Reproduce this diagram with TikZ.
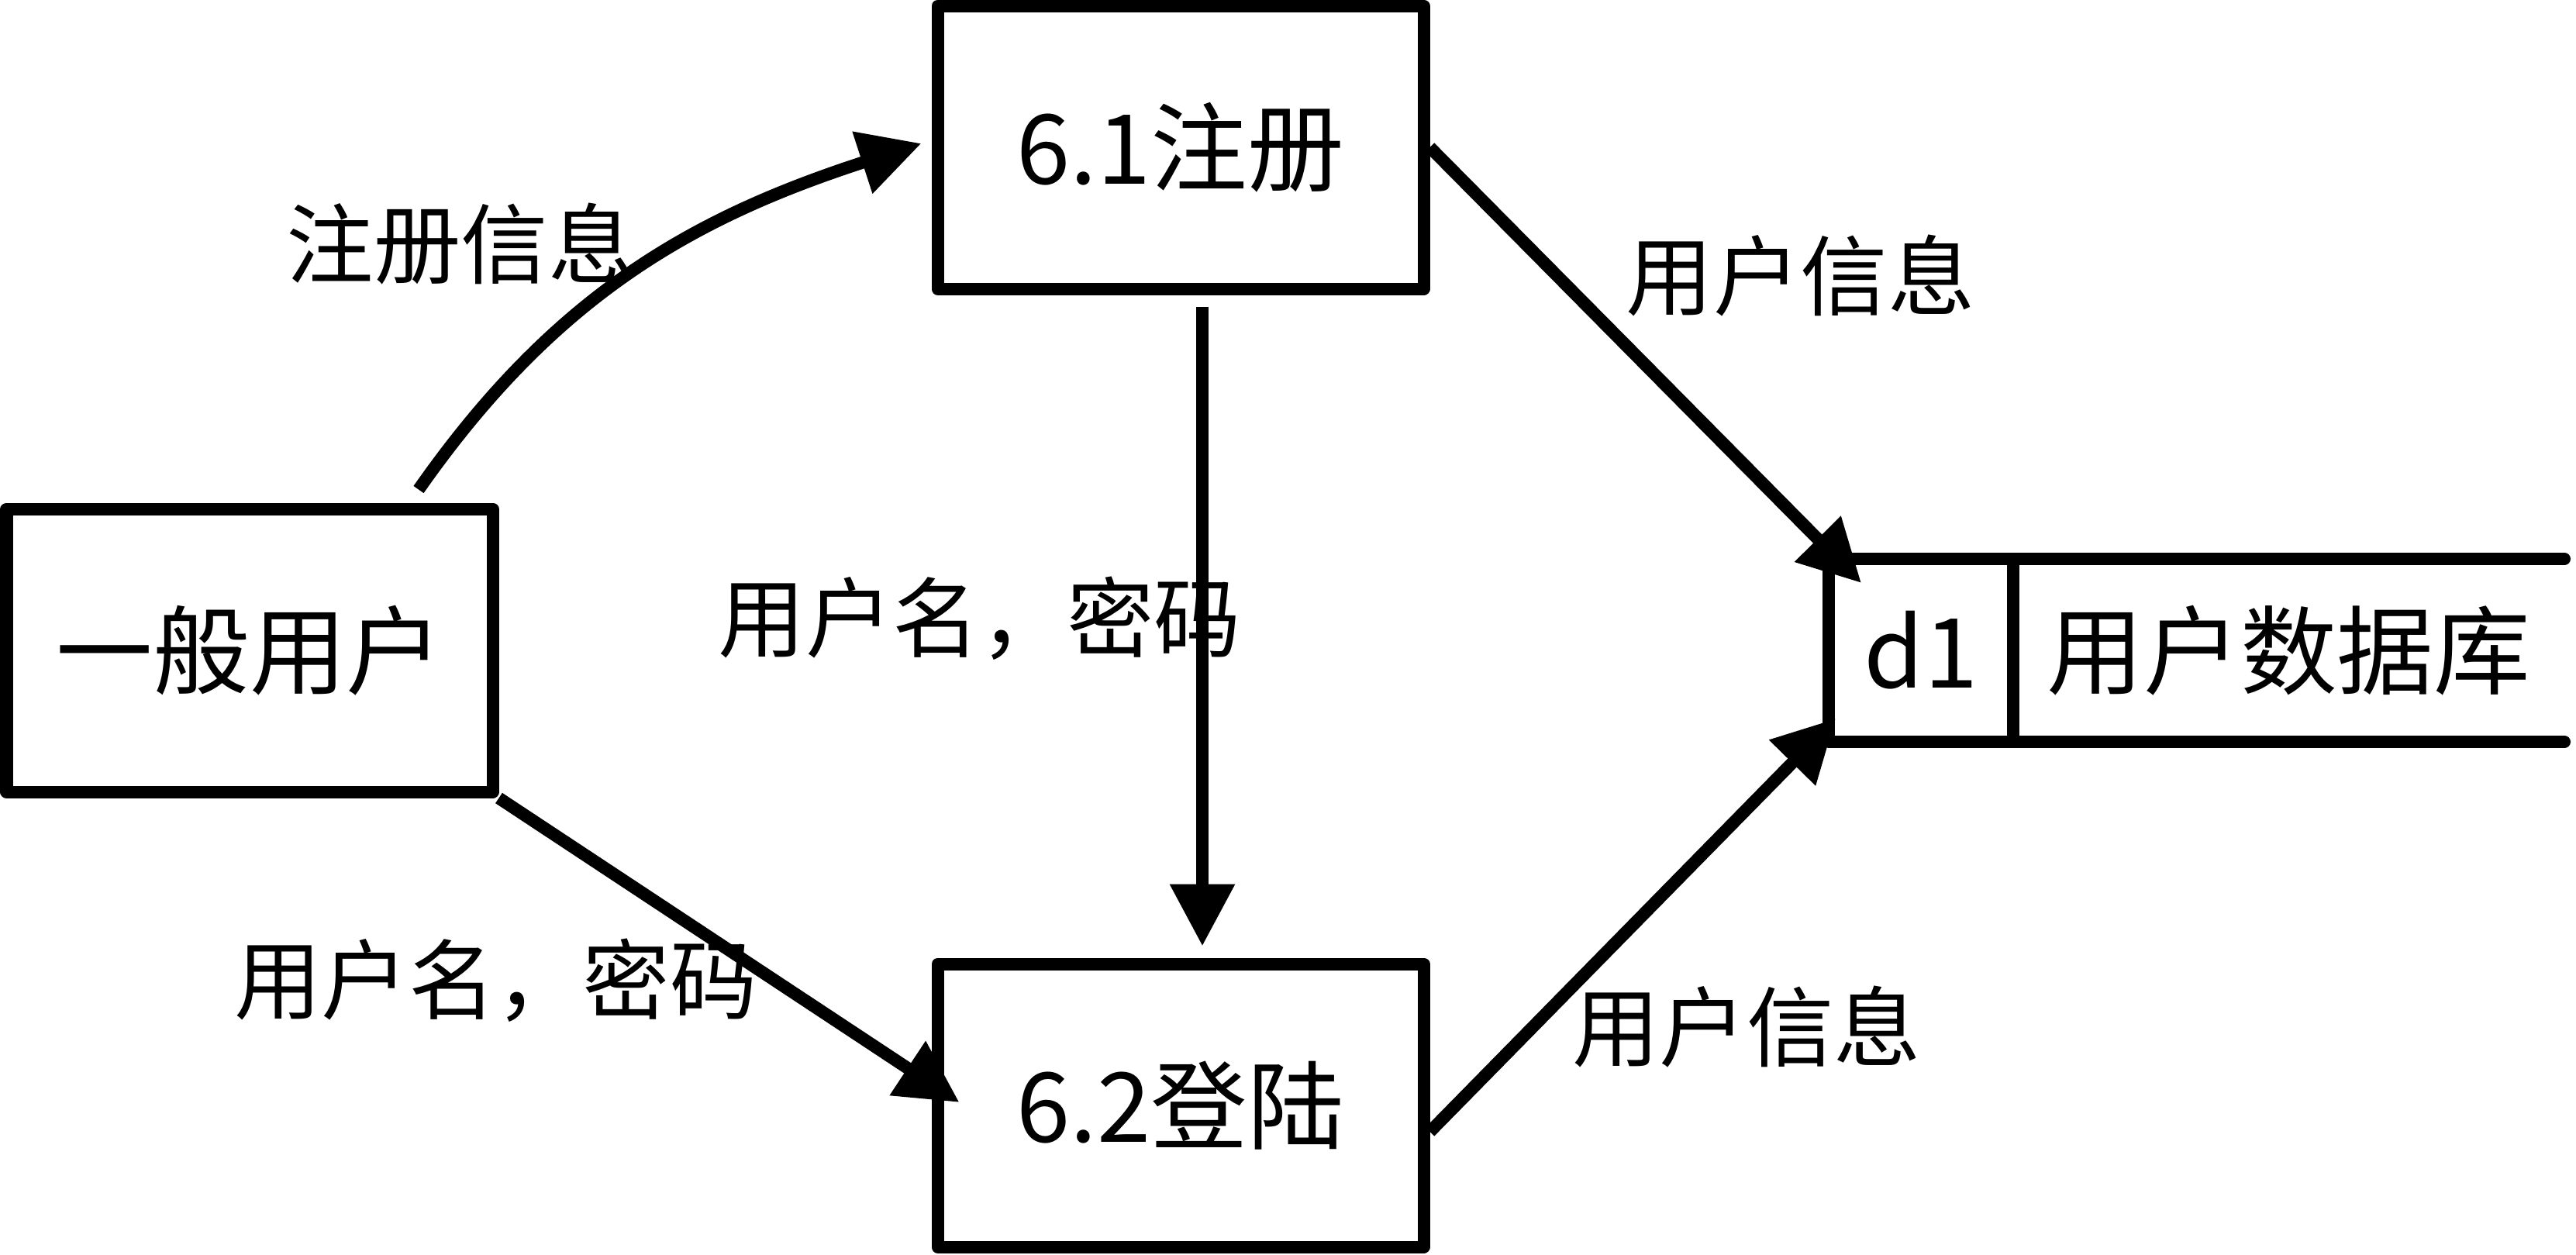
\documentclass[tikz,border=0pt]{standalone}
\usepackage{fontspec}
\newfontfamily\cjk{Noto Sans CJK SC}
\usetikzlibrary{arrows.meta,positioning}

\begin{document}
\begin{tikzpicture}[
  proc/.style={draw, line width=0.16cm, line join=round, minimum width=6.27cm, minimum height=3.65cm, align=center, font=\cjk\fontsize{35.5}{40}\selectfont},
  cell/.style={inner sep=0pt, outer sep=0pt, minimum height=2.36cm, font=\cjk\fontsize{35.5}{40}\selectfont},
  arr/.style={-{Triangle[length=0.8cm, width=0.8cm]}, line width=0.16cm},
  lbl/.style={font=\cjk\fontsize{32}{36}\selectfont, inner sep=0pt},
  storeline/.style={line width=0.16cm, line cap=round, line join=round}
]
\useasboundingbox (0,0) rectangle (33.23,-16.18);

\node[proc] (user) at (3.22,-8.39) {一般用户};
\node[proc] (reg) at (15.23,-1.90) {6.1注册};
\node[proc, below=8.55cm of reg] (login) {6.2登陆};

% data store d1
\node[cell, minimum width=2.38cm] (id) at (24.78,-8.39) {d1};
\node[cell, minimum width=7.11cm, right=0pt of id] (dbname) {用户数据库};
\draw[storeline] (dbname.north east) -- (id.north west) -- (id.south west) -- (dbname.south east);
\draw[storeline] (id.north east) -- (id.south east);

\draw[arr] ([xshift=2.18cm, yshift=0.17cm]user.north) to[out=55, in=198]
  node[lbl, midway, xshift=-2.26cm, yshift=0.35cm] {注册信息} ([xshift=-0.13cm, yshift=0.05cm]reg.west);
\draw[arr, shorten <=0.15cm, shorten >=0.15cm] ([xshift=0.28cm]reg.south) --
  node[lbl, midway, xshift=-2.87cm, yshift=0.1cm] {用户名，密码} ([xshift=0.28cm]login.north);
\draw[arr] (user.south east) --
  node[lbl, midway, xshift=-3.01cm, yshift=-0.39cm] {用户名，密码} ([xshift=0.36cm, yshift=0.04cm]login.west);
\draw[arr] (reg.east) --
  node[lbl, midway, xshift=2.0cm, yshift=1.15cm] {用户信息} ([xshift=0.42cm, yshift=-0.31cm]id.north west);
\draw[arr] ([yshift=-0.34cm]login.east) --
  node[lbl, midway, xshift=1.47cm, yshift=-1.31cm] {用户信息} ([xshift=0.09cm, yshift=-2.06cm]id.north west);

\end{tikzpicture}
\end{document}
